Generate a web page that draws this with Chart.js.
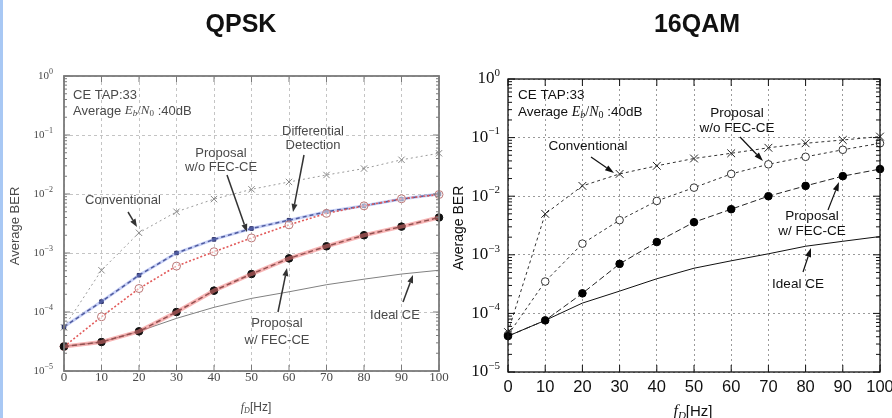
<!DOCTYPE html>
<html><head><meta charset="utf-8">
<script src="https://cdn.jsdelivr.net/npm/chart.js@4.4.0/dist/chart.umd.min.js"></script>
<style>
html,body{margin:0;padding:0;background:#fff;width:892px;height:418px;overflow:hidden;position:relative;}
#stripe{position:absolute;left:0;top:0;width:3px;height:418px;background:#a8c8f4;}
.title{position:absolute;top:9px;font:bold 25px "Liberation Sans",Arial,sans-serif;color:#111;transform:translateX(-50%);white-space:nowrap;}
#wl{position:absolute;left:0;top:0;width:450px;height:418px;}
#wr{position:absolute;left:450px;top:0;width:442px;height:418px;}
#cl{filter:blur(0.5px);}
canvas{display:block}
</style></head><body>
<div id="wl"><canvas id="cl" width="450" height="418"></canvas></div>
<div id="wr"><canvas id="cr" width="442" height="418"></canvas></div>
<div id="stripe"></div>
<div class="title" style="left:241px">QPSK</div>
<div class="title" style="left:697px">16QAM</div>
<script>
// ---------- data ----------
const fD = [0,10,20,30,40,50,60,70,80,90,100];
const yDecades = [1e-5,1e-4,1e-3,1e-2,1e-1,1];
const yExp = ['\u22125','\u22124','\u22123','\u22122','\u22121','0'];

// QPSK
const qpskConventional  = [5.5e-5,5.1e-4,2.2e-3,5.0e-3,8.2e-3,1.2e-2,1.6e-2,2.1e-2,2.7e-2,3.8e-2,4.9e-2];
const qpskDifferential  = [5.6e-5,1.5e-4,4.2e-4,1.0e-3,1.7e-3,2.6e-3,3.6e-3,5.0e-3,6.3e-3,8.2e-3,1.0e-2];
const qpskProposalWoFEC = [2.6e-5,8.3e-5,2.5e-4,6.0e-4,1.05e-3,1.8e-3,3.0e-3,4.7e-3,6.3e-3,8.3e-3,9.8e-3];
const qpskProposalWFEC  = [2.6e-5,3.1e-5,4.7e-5,1.0e-4,2.3e-4,4.4e-4,8.1e-4,1.3e-3,2.0e-3,2.8e-3,4.0e-3];
const qpskIdeal         = [2.6e-5,3.1e-5,4.7e-5,7.8e-5,1.2e-4,1.7e-4,2.2e-4,2.9e-4,3.6e-4,4.4e-4,5.1e-4];

// 16QAM
const qamConventional  = [4.8e-5,5.0e-3,1.5e-2,2.4e-2,3.3e-2,4.4e-2,5.4e-2,6.7e-2,8.0e-2,9.1e-2,1.04e-1];
const qamProposalWoFEC = [4.3e-5,3.5e-4,1.55e-3,3.9e-3,8.3e-3,1.4e-2,2.4e-2,3.5e-2,4.7e-2,6.2e-2,8.0e-2];
const qamProposalWFEC  = [4.1e-5,7.6e-5,2.2e-4,7.0e-4,1.65e-3,3.6e-3,6.0e-3,1.0e-2,1.5e-2,2.2e-2,2.9e-2];
const qamIdeal         = [4.1e-5,7.6e-5,1.5e-4,2.4e-4,3.9e-4,5.9e-4,7.9e-4,1.04e-3,1.4e-3,1.7e-3,2.05e-3];

// ---------- helpers ----------
const pts = arr => arr.map((v,i)=>({x:fD[i], y:v}));

function richText(ctx, segs, x, y, align, color){
  let w = 0;
  segs.forEach(s=>{ctx.font=s.font; s.w=ctx.measureText(s.t).width; w+=s.w;});
  let cx = align==='center' ? x-w/2 : align==='right' ? x-w : x;
  ctx.textAlign='left'; ctx.textBaseline='middle'; ctx.fillStyle=color;
  segs.forEach(s=>{ctx.font=s.font; ctx.fillText(s.t, cx, y+(s.dy||0)); cx+=s.w;});
}
function arrow(ctx, x1,y1,x2,y2, color, lw, hl, hw){
  const ang = Math.atan2(y2-y1, x2-x1);
  const bx = x2 - hl*Math.cos(ang), by = y2 - hl*Math.sin(ang);
  ctx.strokeStyle=color; ctx.fillStyle=color; ctx.lineWidth=lw; ctx.setLineDash([]);
  ctx.beginPath(); ctx.moveTo(x1,y1); ctx.lineTo(bx,by); ctx.stroke();
  ctx.beginPath(); ctx.moveTo(x2,y2);
  ctx.lineTo(bx + hw*Math.sin(ang), by - hw*Math.cos(ang));
  ctx.lineTo(bx - hw*Math.sin(ang), by + hw*Math.cos(ang));
  ctx.closePath(); ctx.fill();
}

function decor(cfg){
  return {
    id:'decor',
    afterDatasetsDraw(chart){
      const {ctx, chartArea:a, scales:{x,y}} = chart;
      ctx.save();
      ctx.setLineDash([]);
      const ln=(x1,y1,x2,y2)=>{ctx.beginPath();ctx.moveTo(x1,y1);ctx.lineTo(x2,y2);ctx.stroke();};
      // ticks
      ctx.strokeStyle=cfg.frameColor; ctx.lineWidth=1;
      yDecades.forEach((v,i)=>{
        const py=y.getPixelForValue(v);
        ln(a.left,py,a.left+cfg.major,py); ln(a.right,py,a.right-cfg.major,py);
        if(i<yDecades.length-1){
          for(let m=2;m<=9;m++){
            const pm=y.getPixelForValue(v*m);
            ln(a.left,pm,a.left+cfg.minor,pm); ln(a.right,pm,a.right-cfg.minor,pm);
          }
        }
      });
      fD.forEach(v=>{
        const px=x.getPixelForValue(v);
        ln(px,a.top,px,a.top+cfg.major); ln(px,a.bottom,px,a.bottom-cfg.major);
      });
      // frame
      ctx.lineWidth=cfg.frameWidth;
      ctx.strokeRect(a.left,a.top,a.right-a.left,a.bottom-a.top);
      // y tick labels
      yDecades.forEach((v,i)=>{
        richText(ctx,[{t:'10',font:cfg.tickFontY},{t:yExp[i],font:cfg.expFont,dy:cfg.expDy}],
          a.left-cfg.yLabelGap, y.getPixelForValue(v), 'right', cfg.textColor);
      });
      // x tick labels
      ctx.font=cfg.tickFontX; ctx.fillStyle=cfg.textColor; ctx.textAlign='center'; ctx.textBaseline='middle';
      fD.forEach(v=>ctx.fillText(String(v), x.getPixelForValue(v), cfg.xLabelY));
      // axis titles
      ctx.save();
      ctx.translate(cfg.yTitle.x, cfg.yTitle.y); ctx.rotate(-Math.PI/2);
      ctx.font=cfg.yTitle.font; ctx.textAlign='center'; ctx.textBaseline='middle'; ctx.fillStyle=cfg.textColor;
      ctx.fillText('Average BER',0,0);
      ctx.restore();
      richText(ctx, cfg.xTitle.segs, cfg.xTitle.x, cfg.xTitle.y, 'center', cfg.textColor);
      // annotations
      cfg.texts.forEach(t=>{
        if(t.segs) richText(ctx,t.segs,t.x,t.y,t.align||'left',cfg.textColor);
        else richText(ctx,[{t:t.t,font:cfg.annFont}],t.x,t.y,t.align||'center',cfg.textColor);
      });
      cfg.arrows.forEach(r=>arrow(ctx,r[0],r[1],r[2],r[3],cfg.arrowColor,cfg.arrowWidth,cfg.headLen,cfg.headW));
      ctx.restore();
    }
  };
}

function makeChart(id, datasets, cfg){
  const axisCommon = {
    grid:{color:cfg.gridColor, lineWidth:1, drawTicks:false, tickLength:0},
    border:{display:false, dash:cfg.gridDash},
    ticks:{display:false}
  };
  return new Chart(document.getElementById(id), {
    type:'line',
    data:{datasets},
    options:{
      responsive:false, animation:false, devicePixelRatio:1,
      layout:{padding:cfg.padding},
      plugins:{legend:{display:false}, tooltip:{enabled:false}, title:{display:false}},
      elements:{line:{tension:0}},
      scales:{
        x:Object.assign({type:'linear', min:0, max:100,
          afterBuildTicks:s=>{s.ticks=fD.map(v=>({value:v}));}}, axisCommon),
        y:Object.assign({type:'logarithmic', min:1e-5, max:1,
          afterBuildTicks:s=>{s.ticks=yDecades.map(v=>({value:v}));}}, axisCommon)
      }
    },
    plugins:[decor(cfg)]
  });
}

const lserif = '"Liberation Serif","DejaVu Serif",serif';
const lsans = '"Liberation Sans",Arial,sans-serif';

// ---------- QPSK (left) ----------
makeChart('cl', [
  {data:pts(qpskProposalWFEC), borderColor:'rgba(240,120,120,0.55)', borderWidth:4, pointRadius:0, clip:false},
  {data:pts(qpskProposalWFEC), borderColor:'#222', borderWidth:1.5, borderDash:[5,3],
   pointStyle:'circle', pointRadius:3.8, pointBackgroundColor:'#111', pointBorderColor:'#111', pointBorderWidth:1, clip:false},
  {data:pts(qpskProposalWoFEC), borderColor:'#e25a5a', borderWidth:1.6, borderDash:[2,2],
   pointStyle:'circle', pointRadius:4, pointBackgroundColor:'rgba(255,255,255,0.5)', pointBorderColor:'#b77', pointBorderWidth:1, clip:false},
  {data:pts(qpskDifferential), borderColor:'rgba(130,150,235,0.45)', borderWidth:3, pointRadius:0, clip:false},
  {data:pts(qpskDifferential), borderColor:'#262b62', borderWidth:1.5, borderDash:[4,3],
   pointStyle:'rect', pointRadius:2.5, pointBackgroundColor:'#262b62', pointBorderColor:'#262b62', pointBorderWidth:1, clip:false},
  {data:pts(qpskConventional), borderColor:'#9a9a9a', borderWidth:1, borderDash:[2,3],
   pointStyle:'crossRot', pointRadius:4.5, pointBorderColor:'#888', pointBorderWidth:1, clip:false},
  {data:pts(qpskIdeal), borderColor:'#808080', borderWidth:1, pointRadius:0, clip:false}
], {
  padding:{left:64, top:76, right:11, bottom:47},
  gridColor:'#c4c4c4', gridDash:[3,3],
  frameColor:'#7a7a7a', frameWidth:1.8, major:6, minor:3,
  textColor:'#4a4a4a',
  tickFontY:'11px '+lserif, expFont:'8px '+lserif, expDy:-4, yLabelGap:11,
  tickFontX:'13px '+lserif, xLabelY:378,
  yTitle:{x:15, y:226, font:'13px '+lsans},
  xTitle:{x:256, y:408, segs:[{t:'f',font:'italic 12px '+lserif},{t:'D',font:'italic 8px '+lserif,dy:3},{t:'[Hz]',font:'12px '+lsans}]},
  annFont:'13px '+lsans,
  texts:[
    {t:'CE TAP:33', x:73, y:95, align:'left'},
    {segs:[{t:'Average ',font:'13px '+lsans},{t:'E',font:'italic 13px '+lserif},{t:'b',font:'italic 9px '+lserif,dy:3},
           {t:'/',font:'13px '+lserif},{t:'N',font:'italic 13px '+lserif},{t:'0',font:'9px '+lserif,dy:3},{t:' :40dB',font:'13px '+lsans}],
     x:73, y:111, align:'left'},
    {t:'Differential', x:313, y:131}, {t:'Detection', x:313, y:145},
    {t:'Proposal', x:221, y:153}, {t:'w/o FEC-CE', x:221, y:167},
    {t:'Conventional', x:123, y:200},
    {t:'Proposal', x:277, y:323}, {t:'w/ FEC-CE', x:277, y:340},
    {t:'Ideal CE', x:395, y:315}
  ],
  arrows:[[304,155,293,212],[227,175,247,232],[128,212,137,227],[278,312,287,268],[403,302,413,275]],
  arrowColor:'#333', arrowWidth:1.5, headLen:8, headW:3
});

// ---------- 16QAM (right) ----------
makeChart('cr', [
  {data:pts(qamProposalWFEC), borderColor:'#222', borderWidth:1, borderDash:[6,3],
   pointStyle:'circle', pointRadius:3.8, pointBackgroundColor:'#000', pointBorderColor:'#000', pointBorderWidth:1, clip:false},
  {data:pts(qamProposalWoFEC), borderColor:'#333', borderWidth:1, borderDash:[3,3],
   pointStyle:'circle', pointRadius:3.8, pointBackgroundColor:'#fff', pointBorderColor:'#333', pointBorderWidth:1, clip:false},
  {data:pts(qamConventional), borderColor:'#333', borderWidth:1, borderDash:[3,3],
   pointStyle:'crossRot', pointRadius:5.5, pointBorderColor:'#222', pointBorderWidth:1, clip:false},
  {data:pts(qamIdeal), borderColor:'#111', borderWidth:1, pointRadius:0, clip:false}
], {
  padding:{left:58, top:79, right:12, bottom:46},
  gridColor:'#9a9a9a', gridDash:[2,3],
  frameColor:'#111', frameWidth:1.3, major:7, minor:4,
  textColor:'#111',
  tickFontY:'17px '+lserif, expFont:'11px '+lserif, expDy:-6, yLabelGap:8,
  tickFontX:'16.5px '+lsans, xLabelY:387,
  yTitle:{x:9, y:228, font:'14px '+lsans},
  xTitle:{x:243, y:412, segs:[{t:'f',font:'italic 16px '+lserif},{t:'D',font:'italic 11px '+lserif,dy:4},{t:'[Hz]',font:'15px '+lsans}]},
  annFont:'13.5px '+lsans,
  texts:[
    {t:'CE TAP:33', x:68, y:95, align:'left'},
    {segs:[{t:'Average ',font:'13.5px '+lsans},{t:'E',font:'italic 14px '+lserif},{t:'b',font:'italic 10px '+lserif,dy:3},
           {t:'/',font:'14px '+lserif},{t:'N',font:'italic 14px '+lserif},{t:'0',font:'10px '+lserif,dy:3},{t:' :40dB',font:'13.5px '+lsans}],
     x:68, y:112, align:'left'},
    {t:'Conventional', x:138, y:146},
    {t:'Proposal', x:287, y:113}, {t:'w/o FEC-CE', x:287, y:128},
    {t:'Proposal', x:362, y:216}, {t:'w/ FEC-CE', x:362, y:231},
    {t:'Ideal CE', x:348, y:284}
  ],
  arrows:[[141,157,164,173],[290,137,313,161],[378,210,389,182],[353,272,361,248]],
  arrowColor:'#111', arrowWidth:1.2, headLen:9, headW:3
});
</script>
</body></html>
